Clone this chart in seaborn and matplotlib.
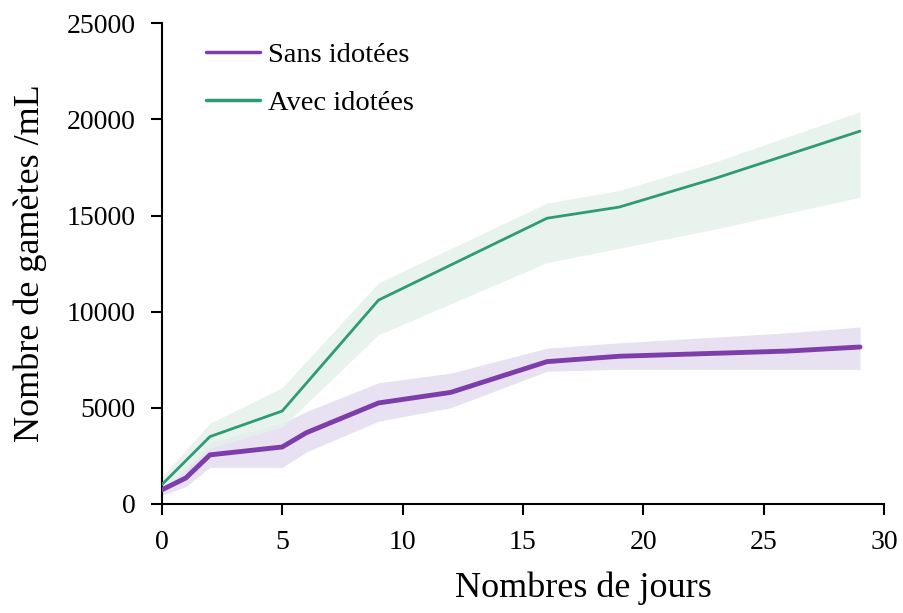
import numpy as np
import pandas as pd
import matplotlib
matplotlib.use("Agg")
import matplotlib.pyplot as plt
import seaborn as sns

# Data
days_sans = [0, 1, 2, 5, 6, 9, 12, 16, 19, 26, 29]
mean_sans = [730, 1350, 2550, 2960, 3700, 5250, 5800, 7400, 7680, 7950, 8160]
upper_sans = [1250, 1900, 3200, 4200, 4800, 6300, 6800, 8100, 8380, 8900, 9200]
lower_sans = [450, 900, 1900, 1900, 2700, 4300, 5000, 6900, 7000, 7000, 7000]

days_avec = [0, 2, 5, 9, 16, 19, 23, 29]
mean_avec = [1000, 3500, 4830, 10600, 14860, 15440, 16940, 19390]
upper_avec = [1400, 4200, 6050, 11500, 15650, 16300, 17800, 20400]
lower_avec = [700, 2900, 4000, 8800, 12550, 13300, 14300, 15950]

series_labels = ["Sans idotées", "Avec idotées"]
x_ticks = [0, 5, 10, 15, 20, 25, 30]
y_ticks = [0, 5000, 10000, 15000, 20000, 25000]

sns.set_style("ticks")
plt.rcParams['font.family'] = ['Liberation Serif', 'DejaVu Serif']
plt.rcParams['text.color'] = 'black'
plt.rcParams['axes.labelcolor'] = 'black'

col_sans = "#7D3DAA"
col_avec = "#2F9A78"

df = pd.concat([
    pd.DataFrame({"jour": days_sans, "val": mean_sans, "serie": series_labels[0]}),
    pd.DataFrame({"jour": days_avec, "val": mean_avec, "serie": series_labels[1]}),
])

fig = plt.figure(figsize=(9.04, 6.13), dpi=100)
ax = fig.add_axes([0.179, 0.178, 0.799, 0.784])

ax.fill_between(days_sans, lower_sans, upper_sans, color="#E8E1F1", lw=0, zorder=1)
ax.fill_between(days_avec, lower_avec, upper_avec, color="#E4F2EC", lw=0, alpha=0.85, zorder=1)

sns.lineplot(data=df[df.serie == series_labels[0]], x="jour", y="val", color=col_sans,
             lw=3.5, ax=ax, label=series_labels[0], zorder=3)
sns.lineplot(data=df[df.serie == series_labels[1]], x="jour", y="val", color=col_avec,
             lw=2, ax=ax, label=series_labels[1], zorder=3)

ax.set_xlim(0, 30)
ax.set_ylim(0, 25000)
ax.set_xticks(x_ticks)
ax.set_yticks(y_ticks)
ax.tick_params(axis="both", labelsize=20, length=8, width=1.5, direction="out", colors="black")
ax.tick_params(axis="x", pad=11)
ax.tick_params(axis="y", pad=11)
for s in ["left", "bottom"]:
    ax.spines[s].set_linewidth(1.5)
    ax.spines[s].set_color("black")
for s in ["top", "right"]:
    ax.spines[s].set_visible(False)

ax.set_xlabel("Nombres de jours", fontsize=26, color="black")
ax.xaxis.set_label_coords(0.584, -0.14)
ax.set_ylabel("Nombre de gamètes /mL", fontsize=26, labelpad=14, color="black")

leg = ax.legend(loc="upper left", bbox_to_anchor=(0.045, 0.984), frameon=False, fontsize=20.5,
                handlelength=1.9, handletextpad=0.3, labelspacing=0.78, borderaxespad=0)
for h in leg.get_lines():
    h.set_linewidth(2.5)
for t in leg.get_texts():
    t.set_color("black")

fig.savefig("out.png", dpi=100)
